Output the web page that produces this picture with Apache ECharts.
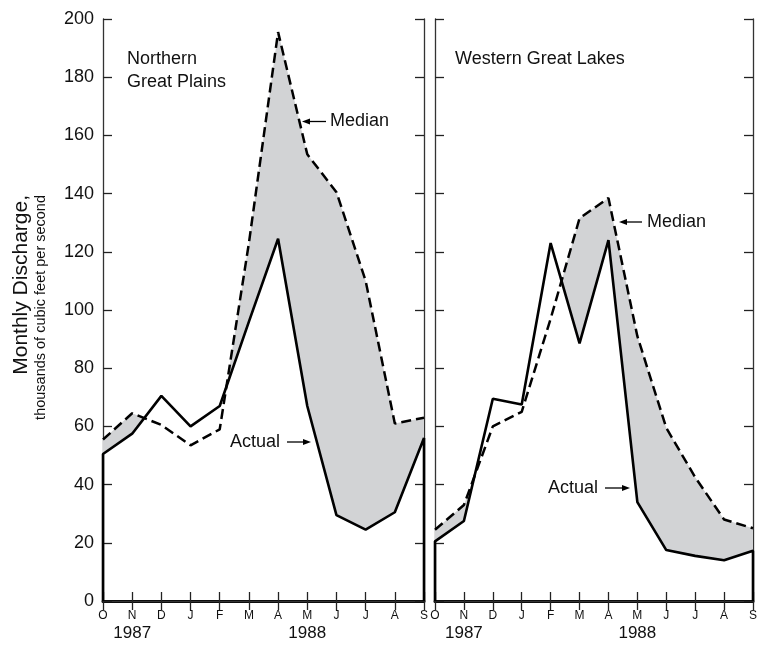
<!DOCTYPE html>
<html>
<head>
<meta charset="utf-8">
<script src="https://cdn.jsdelivr.net/npm/echarts@6/dist/echarts.min.js"></script>
<style>
html,body{margin:0;padding:0;background:#fff;}
#chart{width:760px;height:646px;}
</style>
</head>
<body>
<div id="chart"></div>
<script>
// ---- data ----
const months = ['O','N','D','J','F','M','A','M','J','J','A','S'];
const yearLabels = {1:'1987', 7:'1988'};
const panelTitles = [['Northern','Great Plains'], ['Western Great Lakes']];
// Northern Great Plains (thousands of cfs)
const ngpActual = [50.5, 57.5, 70.5, 60, 67, 96, 124.5, 67, 29.5, 24.5, 30.5, 56];
const ngpMedian = [55.5, 64.5, 60.5, 53.5, 59, 123, 195.5, 153.5, 140.5, 110, 61, 63];
// Western Great Lakes
const wglActual = [20.5, 27.5, 69.5, 67.5, 123, 88.5, 124, 34, 17.5, 15.5, 14, 17.3];
const wglMedian = [24.5, 33, 60, 65, 97, 131.5, 138.5, 91, 59.5, 42.5, 28, 25];

const FONT = '"Liberation Sans", Arial, Helvetica, sans-serif';
const GREY = '#d2d3d5';

function lineData(vals){
  const d = [[0,0]];
  vals.forEach((v,i)=>d.push([i,v]));
  d.push([vals.length-1,0]);
  return d;
}
function medianData(vals){ return vals.map((v,i)=>[i,v]); }

function deficitRender(actual, median){
  return function(params, api){
    const n = actual.length;
    const upper = [], lower = [];
    for (let i=0;i<n;i++){
      upper.push([i, median[i]]);
      lower.push([i, Math.min(actual[i], median[i])]);
      if (i<n-1){
        const d0 = median[i]-actual[i], d1 = median[i+1]-actual[i+1];
        if (d0*d1<0){
          const t = d0/(d0-d1);
          const p = [i+t, median[i]+t*(median[i+1]-median[i])];
          upper.push(p); lower.push(p);
        }
      }
    }
    const pts = upper.concat(lower.reverse()).map(p=>api.coord(p));
    return {type:'polygon', shape:{points:pts}, style:{fill:GREY, stroke:null}, silent:true};
  };
}

function xAxisBottom(g){
  return {
    type:'value', gridIndex:g, position:'bottom', min:0, max:11, interval:1,
    axisLine:{show:true, lineStyle:{color:'#000', width:3}},
    axisTick:{show:true, inside:true, length:9, lineStyle:{color:'#222', width:1.3}},
    splitLine:{show:false},
    axisLabel:{
      show:true, margin:8, showMinLabel:true, showMaxLabel:true,
      formatter:function(v){
        const i = Math.round(v);
        let s = '{m|'+months[i]+'}';
        if (yearLabels[i]) s += '\n{yr|'+yearLabels[i]+'}';
        return s;
      },
      rich:{
        m:{fontSize:12, fontFamily:FONT, color:'#111', lineHeight:14, align:'center'},
        yr:{fontSize:17, fontFamily:FONT, color:'#111', lineHeight:20, align:'center'}
      }
    }
  };
}
function xAxisTop(g){
  return {
    type:'value', gridIndex:g, position:'top', min:0, max:11, interval:1,
    axisLine:{show:true, lineStyle:{color:'#333', width:1.3}},
    axisTick:{show:true, inside:true, length:9, lineStyle:{color:'#222', width:1.3}},
    splitLine:{show:false}, axisLabel:{show:false}
  };
}
function yAxisSide(g, pos, labels){
  return {
    type:'value', gridIndex:g, position:pos, min:0, max:200, interval:20,
    axisLine:{show:true, onZero:false, lineStyle:{color:'#333', width:1.3}},
    axisTick:{show:true, inside:true, length:9, lineStyle:{color:'#222', width:1.3}},
    splitLine:{show:false},
    axisLabel:{show:labels, fontSize:18, fontFamily:FONT, color:'#111', margin:9}
  };
}

function arrow(x1, y, x2){
  // line from x1 to tip x2
  const dir = x2 > x1 ? 1 : -1;
  return [
    {type:'line', shape:{x1:x1, y1:y, x2:x2 - dir*5, y2:y}, style:{stroke:'#000', lineWidth:1.3}, z:10},
    {type:'polygon', shape:{points:[[x2,y],[x2-dir*8,y-3],[x2-dir*8,y+3]]}, style:{fill:'#000'}, z:10}
  ];
}
function label(text, x, y, size, align){
  return {type:'text', x:x, y:y, z:10, style:{text:text, fontSize:size, fontFamily:FONT, fill:'#111', align:align||'left', verticalAlign:'middle'}};
}

const graphic = [
  label(panelTitles[0][0], 127, 59, 18),
  label(panelTitles[0][1], 127, 82, 18),
  label(panelTitles[1][0], 455, 59, 18),
  label('Median', 330, 121, 18),
  ...arrow(326, 121.5, 302),
  label('Actual', 230, 442, 18),
  ...arrow(287, 442, 311),
  label('Median', 647, 222, 18),
  ...arrow(642, 222, 619),
  label('Actual', 548, 488, 18),
  ...arrow(605, 488, 630),
  {type:'text', x:21, y:195, rotation:Math.PI/2, z:10,
   style:{text:'Monthly Discharge,', fontSize:21, fontFamily:FONT, fill:'#111', align:'right', verticalAlign:'middle'}},
  {type:'text', x:41, y:195, rotation:Math.PI/2, z:10,
   style:{text:'thousands of cubic feet per second', fontSize:14.5, fontFamily:FONT, fill:'#111', align:'right', verticalAlign:'middle'}}
];

function panelSeries(g, actual, median){
  const xi = g*2, yi = g*2;
  return [
    {type:'custom', xAxisIndex:xi, yAxisIndex:yi, data:[[0,0]], encode:{x:0,y:1},
     renderItem:deficitRender(actual, median), z:1, silent:true, clip:false},
    {type:'line', xAxisIndex:xi, yAxisIndex:yi, data:medianData(median), symbol:'none', clip:false,
     lineStyle:{color:'#000', width:2.5, type:[10,5]}, z:3, silent:true},
    {type:'line', xAxisIndex:xi, yAxisIndex:yi, data:lineData(actual), symbol:'none', clip:false,
     lineStyle:{color:'#000', width:2.6}, z:4, silent:true}
  ];
}

const option = {
  animation:false,
  backgroundColor:'#fff',
  grid:[
    {left:103, top:19, width:321, height:582},
    {left:435, top:19, width:321, height:582}
  ],
  xAxis:[xAxisBottom(0), xAxisTop(0), xAxisBottom(1), xAxisTop(1)],
  yAxis:[yAxisSide(0,'left',true), yAxisSide(0,'right',false), yAxisSide(1,'left',false), yAxisSide(1,'right',false)],
  series:[...panelSeries(0, ngpActual, ngpMedian), ...panelSeries(1, wglActual, wglMedian)],
  graphic:graphic
};
// fix axis index mapping: series use bottom x axis (0 / 2) and left y axis (0 / 2)
const chart = echarts.init(document.getElementById('chart'), null, {renderer:'canvas'});
chart.setOption(option);
</script>
</body>
</html>
